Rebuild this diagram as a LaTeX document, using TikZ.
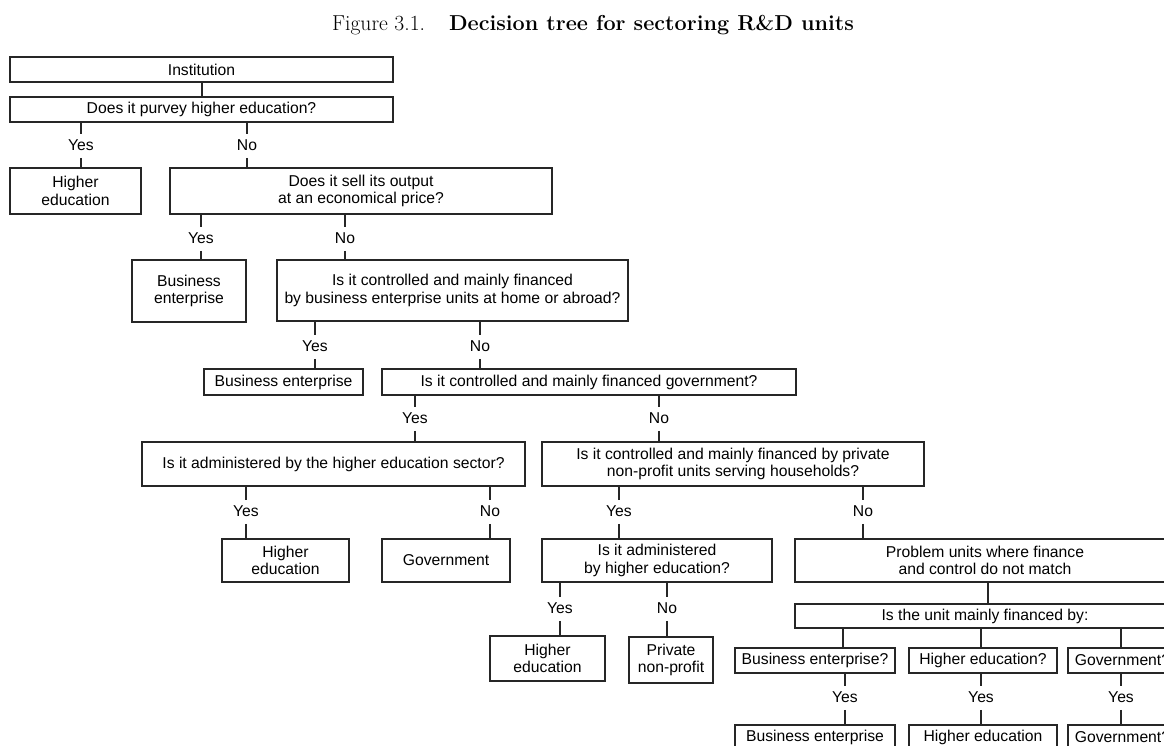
\documentclass[tikz,border=0pt]{standalone}
\usepackage{fontspec}
\usepackage{xcolor}
\usepackage{tikz}
\newfontfamily\arialfont{Liberation Sans}
\newcommand\boxfont{\arialfont\fontsize{15.7}{17.6}\selectfont}
\tikzset{
  box/.style = {draw = black!85, line width = 1.1pt, rectangle, inner sep = 0pt, align = center, font = \boxfont},
  lab/.style = {inner xsep = 1pt, inner ysep = 4.5pt, text height = 11.5pt, text depth = 3pt, font = \boxfont},
  link/.style = {draw = black!85, line width = 1.1pt}
}

\begin{document}
\begin{tikzpicture}[x = 1pt, y = -1pt]
    \useasboundingbox (0, 0) rectangle (1164, 745);
    \clip (0, 0) rectangle (1164, 745);
    \node[anchor = base, font = \fontsize{21.6}{26}\selectfont] (title) at (593, 30)
      {Figure 3.1.\hspace{24pt}\textbf{Decision tree for sectoring R\&D units}};
    % boxes: centre and size in pixels
    \node[box, minimum width = 383, minimum height = 25] (inst) at (201.5, 69.5) {Institution};
    \node[box, minimum width = 383, minimum height = 25] (q1) at (201.5, 109.5) {Does it purvey higher education?};
    \node[box, minimum width = 131, minimum height = 46] (he1) at (75.5, 191) {Higher\\education};
    \node[box, minimum width = 382, minimum height = 46] (q2) at (361, 191) {Does it sell its output\\at an economical price?};
    \node[box, minimum width = 114, minimum height = 62] (be1) at (189, 291) {Business\\enterprise};
    \node[box, minimum width = 351, minimum height = 61] (q3) at (452.5, 290.5)
      {Is it controlled and mainly financed\\by business enterprise units at home or abroad?};
    \node[box, minimum width = 159, minimum height = 26] (be2) at (283.5, 382) {Business enterprise};
    \node[box, minimum width = 414, minimum height = 26] (q4) at (589, 382) {Is it controlled and mainly financed government?};
    \node[box, minimum width = 383, minimum height = 44] (q5) at (333.5, 464) {Is it administered by the higher education sector?};
    \node[box, minimum width = 382, minimum height = 44] (q6) at (733, 464)
      {Is it controlled and mainly financed by private\\non-profit units serving households?};
    \node[box, minimum width = 127, minimum height = 43] (he2) at (285.5, 560.5) {Higher\\education};
    \node[box, minimum width = 128, minimum height = 43] (gov) at (446, 560.5) {Government};
    \node[box, minimum width = 230, minimum height = 43] (q7) at (657, 560.5) {Is it administered\\by higher education?};
    \node[box, minimum width = 380, minimum height = 43] (prob) at (985, 560.5) {Problem units where finance\\and control do not match};
    \node[box, minimum width = 115, minimum height = 45] (he3) at (547.5, 658.5) {Higher\\education};
    \node[box, minimum width = 84, minimum height = 46] (pnp) at (671, 660) {Private\\non-profit};
    \node[box, minimum width = 380, minimum height = 24] (q8) at (985, 616) {Is the unit mainly financed by:};
    \node[box, minimum width = 160, minimum height = 25] (beq) at (815, 660.5) {Business enterprise?};
    \node[box, minimum width = 148, minimum height = 25] (heq) at (983, 660.5) {Higher education?};
    \node[box, minimum width = 109, minimum height = 25] (govq) at (1122.5, 660.5) {Government?};
    \node[box, minimum width = 160, minimum height = 25] (be3) at (815, 737.5) {Business enterprise};
    \node[box, minimum width = 148, minimum height = 25] (he4) at (983, 737.5) {Higher education};
    \node[box, minimum width = 109, minimum height = 25] (gov3) at (1122.5, 737.5) {Government?};
    % yes / no labels
    \foreach \n/\t/\x/\y in {y1/Yes/81/146, n1/No/247/146, y2/Yes/201/239, n2/No/345/239,
        y3/Yes/315/347, n3/No/480/347, y4/Yes/415/419, n4/No/659/419,
        y5/Yes/246/512, n5/No/490/512, y6/Yes/619/512, n6/No/863/512,
        y7/Yes/560/609, n7/No/667/609, y8/Yes/845/698, y9/Yes/981/698, y10/Yes/1121/698}
      {\node[lab] (\n) at (\x, \y) {\t};}
    \foreach \a/\l/\b in {q1/y1/he1, q1/n1/q2, q2/y2/be1, q2/n2/q3, q3/y3/be2, q3/n3/q4,
        q4/y4/q5, q4/n4/q6, q5/y5/he2, q5/n5/gov, q6/y6/q7, q6/n6/prob,
        q7/y7/he3, q7/n7/pnp, beq/y8/be3, heq/y9/he4, govq/y10/gov3}
      {\draw[link] (\a.south -| \l) -- (\l.north);
       \draw[link] (\l.south) -- (\b.north -| \l);}
    % plain links
    \coordinate (c1) at (202, 0);
    \coordinate (c2) at (988, 0);
    \coordinate (c3) at (843, 0);
    \coordinate (c4) at (981, 0);
    \coordinate (c5) at (1121, 0);
    \draw[link] (inst.south -| c1) -- (q1.north -| c1);
    \draw[link] (prob.south -| c2) -- (q8.north -| c2);
    \foreach \c/\b in {c3/beq, c4/heq, c5/govq}
      {\draw[link] (q8.south -| \c) -- (\b.north -| \c);}
  \end{tikzpicture}
\end{document}
